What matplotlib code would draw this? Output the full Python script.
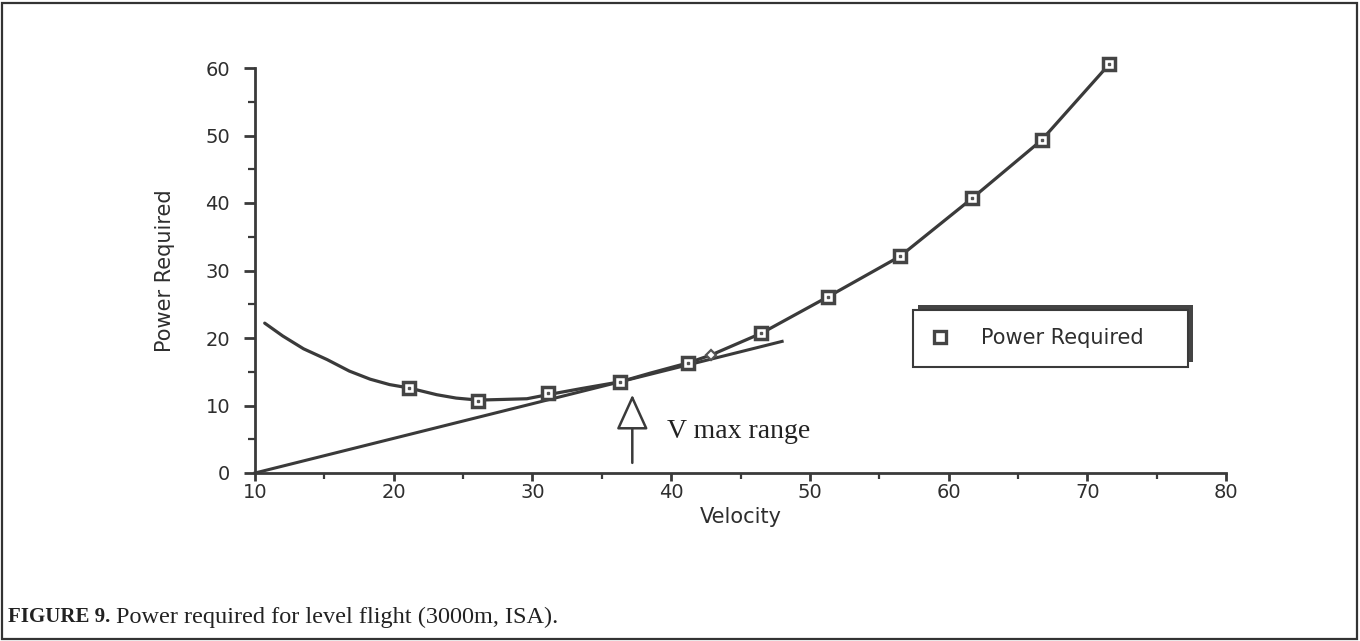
import matplotlib
matplotlib.use("Agg")
import matplotlib.pyplot as plt
from matplotlib.patches import Rectangle
from matplotlib.lines import Line2D
from matplotlib.transforms import IdentityTransform

# ---- data ----
marker_v = [21.1, 26.1, 31.1, 36.3, 41.2, 46.5, 51.3, 56.5, 61.7, 66.7, 71.6]
marker_p = [12.6, 10.6, 11.8, 13.5, 16.3, 20.7, 26.1, 32.1, 40.7, 49.3, 60.6]

curve_v = [10.7, 12.0, 13.5, 15.2, 16.8, 18.3, 19.7, 21.1, 23.1, 24.5, 26.1,
           27.9, 29.6, 31.1, 33.5, 36.3, 38.5, 41.2, 42.9, 46.5, 51.3, 56.5,
           61.7, 66.7, 71.6]
curve_p = [22.2, 20.3, 18.4, 16.8, 15.1, 13.9, 13.1, 12.6, 11.6, 11.1, 10.8,
           10.9, 11.0, 11.6, 12.5, 13.5, 14.8, 16.3, 17.5, 20.7, 26.1, 32.1,
           40.7, 49.3, 60.6]

tangent_v = [10.0, 48.0]
tangent_p = [0.0, 19.5]

tangent_pt_v = [42.9]
tangent_pt_p = [17.5]

arrow_v = 37.2
arrow_p_tail = 1.5
arrow_p_head = 11.6
arrow_label = "V max range"
arrow_label_pos = (39.7, 6.1)

x_ticks = [10, 20, 30, 40, 50, 60, 70, 80]
y_ticks = [0, 10, 20, 30, 40, 50, 60]
x_minor = [15, 25, 35, 45, 55, 65, 75]
y_minor = [5, 15, 25, 35, 45, 55]

x_label = "Velocity"
y_label = "Power Required"
series_name = "Power Required"
caption_bold = "FIGURE 9."
caption_rest = "Power required for level flight (3000m, ISA)."

# ---- styling ----
INK = "#3a3a3a"
TXT = "#2e2e2e"
W, H = 1360, 641
fig = plt.figure(figsize=(W / 100, H / 100), dpi=100)
fig.patch.set_facecolor("white")

ax = fig.add_axes([255 / W, 1 - 473 / H, 971 / W, 405 / H])
ax.set_xlim(10, 80)
ax.set_ylim(0, 60)
for s in ("top", "right"):
    ax.spines[s].set_visible(False)
for s in ("left", "bottom"):
    ax.spines[s].set_color(INK)
    ax.spines[s].set_linewidth(2.0)

ax.set_xticks(x_ticks)
ax.set_yticks(y_ticks)
ax.set_xticks(x_minor, minor=True)
ax.set_yticks(y_minor, minor=True)
ax.tick_params(which="major", width=2, color=INK, labelsize=14, labelcolor=TXT)
ax.tick_params(which="minor", width=1.6, color=INK)
ax.tick_params(axis="x", which="major", length=6, pad=1.5)
ax.tick_params(axis="x", which="minor", length=4)
ax.tick_params(axis="y", which="major", length=8, pad=10)
ax.tick_params(axis="y", which="minor", length=5)

ax.set_xlabel(x_label, fontsize=15, color=TXT, labelpad=3)
ax.set_ylabel(y_label, fontsize=15, color=TXT, labelpad=22)

ax.plot(curve_v, curve_p, color=INK, lw=2.3, solid_capstyle="round",
        solid_joinstyle="round", clip_on=False)
ax.plot(tangent_v, tangent_p, color=INK, lw=2.2, clip_on=False)
ax.plot(marker_v, marker_p, ls="none", marker="s", ms=8.5, mfc="white",
        mec="#444444", mew=2.5, clip_on=False, zorder=4)
ax.plot(marker_v, marker_p, ls="none", marker="s", ms=2.0, color="#555555",
        clip_on=False, zorder=5)
ax.plot(tangent_pt_v, tangent_pt_p, ls="none", marker="D", ms=5.5, mfc="white",
        mec="#555555", mew=1.6, zorder=4)

ax.annotate("", xy=(arrow_v, arrow_p_head), xytext=(arrow_v, arrow_p_tail),
            arrowprops=dict(arrowstyle="-|>,head_length=1.1,head_width=0.5",
                            mutation_scale=20, fc="white", ec=INK, lw=1.8,
                            shrinkA=0, shrinkB=0))
ax.text(arrow_label_pos[0], arrow_label_pos[1], arrow_label,
        fontfamily="Liberation Serif", fontsize=20, color="#222222",
        va="center", ha="left")

# legend
handle = Line2D([], [], ls="none", marker="s", ms=8, mfc="white",
                mec="#444444", mew=2.4)
leg = ax.legend([handle], [series_name], loc="upper left",
                bbox_to_anchor=((913 - 255) / 971, (473 - 310) / 405,
                                (1188 - 913) / 971, 0.0),
                mode="expand", borderaxespad=0, fontsize=15, frameon=True,
                fancybox=False, framealpha=1.0, borderpad=0.88,
                handlelength=0.8, handletextpad=1.6, labelcolor=TXT)
leg.get_frame().set_edgecolor(INK)
leg.get_frame().set_linewidth(1.5)
leg.get_frame().set_facecolor("white")
leg.set_zorder(6)

fig.canvas.draw()
bb = leg.get_window_extent()
shadow = Rectangle((bb.x0 + 5, bb.y0 + 5), bb.width, bb.height,
                   transform=IdentityTransform(), facecolor="#444444",
                   edgecolor="none", clip_on=False, zorder=5.5)
ax.add_artist(shadow)

# caption
t1 = fig.text(8 / W, 1 - 617 / H, caption_bold, fontfamily="Liberation Serif",
              fontsize=15, fontweight="bold", color="#222222", va="center")
fig.canvas.draw()
ax.annotate(caption_rest, xy=(1, 0.5), xycoords=t1, xytext=(4, 0),
            textcoords="offset points", va="center", ha="left",
            fontfamily="Liberation Serif", fontsize=17.5, color="#222222",
            annotation_clip=False)

# outer frame
fig.add_artist(Rectangle((2 / W, 2 / H), (W - 5) / W, (H - 5) / H,
                         transform=fig.transFigure, fill=False,
                         edgecolor="#333333", lw=1.6))

fig.savefig("out.png", dpi=100)
